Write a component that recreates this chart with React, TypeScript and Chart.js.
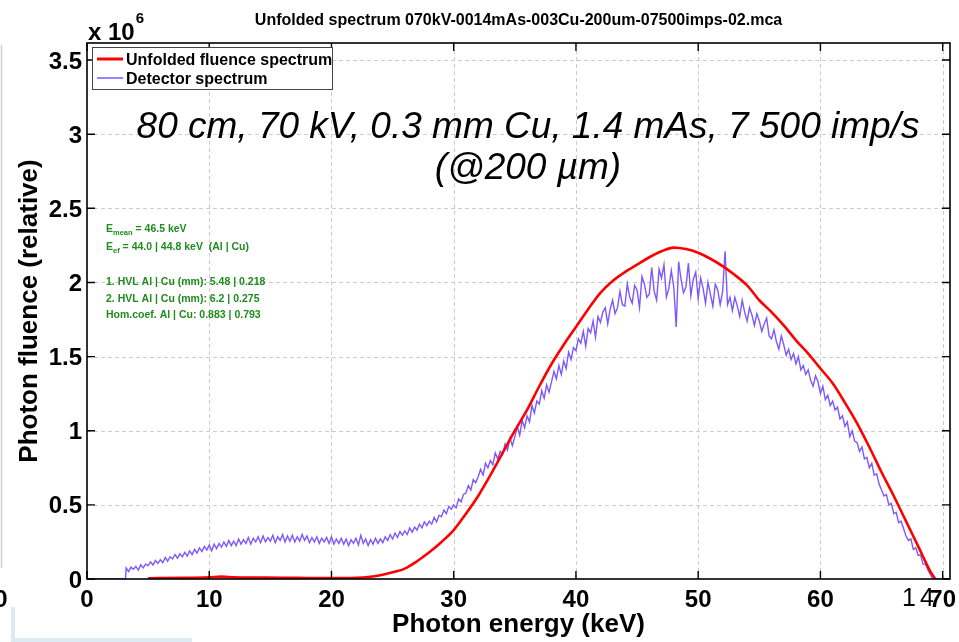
import React, { useEffect, useRef } from 'react';
import { Chart, registerables } from 'chart.js';

Chart.register(...registerables);

const FONT = '"Liberation Sans", Arial, Helvetica, sans-serif';

const TITLE = 'Unfolded spectrum 070kV-0014mAs-003Cu-200um-07500imps-02.mca';
const X_TITLE = 'Photon energy (keV)';
const Y_TITLE = 'Photon fluence (relative)';
const Y_EXPONENT_BASE = 'x 10';
const Y_EXPONENT_POWER = '6';
const LEGEND_LABELS = ['Unfolded fluence spectrum', 'Detector spectrum'];
const NOTE_LINES = ['80 cm, 70 kV, 0.3 mm Cu, 1.4 mAs, 7 500 imp/s', '(@200 µm)'];

// Each stats line is a list of [text, isSubscript] runs.
const STATS_LINE_1: [string, boolean][] = [['E', false], ['mean', true], [' = 46.5 keV', false]];
const STATS_LINE_2: [string, boolean][] = [['E', false], ['ef', true], [' = 44.0 | 44.8 keV  (Al | Cu)', false]];
const STATS_LINE_3: [string, boolean][] = [['1. HVL Al | Cu (mm): 5.48 | 0.218', false]];
const STATS_LINE_4: [string, boolean][] = [['2. HVL Al | Cu (mm): 6.2 | 0.275', false]];
const STATS_LINE_5: [string, boolean][] = [['Hom.coef. Al | Cu: 0.883 | 0.793', false]];

const X_TICKS = [0, 10, 20, 30, 40, 50, 60, 70];
const X_TICK_LABELS = ['0', '10', '20', '30', '40', '50', '60', '70'];
const Y_TICKS = [0, 0.5, 1, 1.5, 2, 2.5, 3, 3.5];
const Y_TICK_LABELS = ['0', '0.5', '1', '1.5', '2', '2.5', '3', '3.5'];
const X_MIN = 0;
const X_MAX = 70.6;
const Y_MIN = 0;
const Y_MAX = 3.615;

// Unfolded fluence spectrum (x 10^6), keV
const unfoldedEnergy = [
  5, 8, 10, 11, 12, 14, 16, 18, 20, 22, 23, 24, 25, 26, 27, 28, 29, 30, 31, 32, 33, 34, 35, 36, 37, 38,
  39, 40, 41, 42, 43, 44, 45, 46, 47, 48, 49, 50, 51, 52, 53, 54, 55, 56, 57, 58, 59, 60, 61, 62, 63,
  64, 65, 66, 67, 68, 69, 69.4,
];
const unfoldedFluence = [
  0.005, 0.008, 0.012, 0.016, 0.012, 0.01, 0.008, 0.007, 0.006, 0.008, 0.013, 0.025, 0.045, 0.07, 0.12,
  0.18, 0.25, 0.33, 0.44, 0.56, 0.7, 0.85, 1.0, 1.14, 1.3, 1.45, 1.58, 1.7, 1.82, 1.93, 2.01, 2.07,
  2.12, 2.17, 2.21, 2.235, 2.225, 2.2, 2.16, 2.11, 2.05, 1.98, 1.88, 1.8, 1.71, 1.61, 1.52, 1.42, 1.32,
  1.19, 1.05, 0.89, 0.72, 0.56, 0.39, 0.22, 0.05, 0,
];

// Detector spectrum: empty channels below threshold, then 0.2 keV channels from 3.2 keV
const detectorLowEnergy = [0, 3.15];
const detectorLowCounts = [0, 0];
const DETECTOR_START = 3.2;
const DETECTOR_STEP = 0.2;
const detectorCounts = [
  0.075, 0.05, 0.08, 0.065,
  0.085, 0.06, 0.095, 0.075, 0.1,
  0.09, 0.115, 0.095, 0.125, 0.105,
  0.13, 0.11, 0.145, 0.12, 0.15,
  0.135, 0.165, 0.14, 0.17, 0.15,
  0.18, 0.155, 0.19, 0.165, 0.2,
  0.175, 0.21, 0.185, 0.22, 0.195,
  0.23, 0.19, 0.235, 0.205, 0.24,
  0.215, 0.25, 0.22, 0.26, 0.225,
  0.255, 0.225, 0.27, 0.235, 0.265,
  0.24, 0.28, 0.235, 0.275, 0.25,
  0.285, 0.245, 0.29, 0.25, 0.28,
  0.255, 0.295, 0.245, 0.285, 0.26,
  0.3, 0.25, 0.29, 0.255, 0.295,
  0.25, 0.285, 0.255, 0.3, 0.26,
  0.29, 0.245, 0.28, 0.25, 0.285,
  0.24, 0.275, 0.25, 0.28, 0.24,
  0.285, 0.235, 0.27, 0.24, 0.275,
  0.235, 0.27, 0.225, 0.265, 0.24,
  0.275, 0.23, 0.295, 0.24, 0.27,
  0.225, 0.265, 0.235, 0.275, 0.24,
  0.27, 0.245, 0.285, 0.26, 0.3,
  0.27, 0.31, 0.28, 0.32, 0.295,
  0.325, 0.3, 0.345, 0.315, 0.35,
  0.33, 0.37, 0.345, 0.385, 0.36,
  0.39, 0.37, 0.415, 0.385, 0.43,
  0.42, 0.465, 0.44, 0.49, 0.47,
  0.5, 0.48, 0.54, 0.52, 0.57,
  0.58, 0.63, 0.6, 0.67, 0.65,
  0.69, 0.74, 0.7, 0.78, 0.75,
  0.8, 0.77, 0.85, 0.81, 0.86,
  0.84, 0.91, 0.87, 0.95, 0.9,
  0.96, 1.03, 0.97, 1.07, 1.02,
  1.1, 1.06, 1.17, 1.12, 1.2,
  1.18, 1.27, 1.22, 1.31, 1.26,
  1.33, 1.4, 1.35, 1.44, 1.38,
  1.47, 1.42, 1.53, 1.48, 1.56,
  1.54, 1.62, 1.59, 1.67, 1.57,
  1.69, 1.66, 1.74, 1.63, 1.77,
  1.73, 1.8, 1.83, 1.72, 1.82,
  1.88, 1.79, 1.83, 1.94, 1.85,
  1.84, 1.99, 1.9, 1.86, 1.98,
  1.95, 1.83, 2.04, 1.99, 1.9,
  1.92, 2.1, 1.94, 1.88, 2.09,
  2.03, 2.12, 1.9, 1.96, 2.08,
  1.97, 1.7, 2.14, 2.02, 1.93,
  1.97, 2.13, 1.91, 2.02, 2.07,
  1.89, 2.03, 1.96, 1.86, 2.0,
  1.92, 1.84, 1.99, 1.95, 1.85,
  1.94, 2.21, 1.85, 1.9, 1.81,
  1.9, 1.84, 1.77, 1.88, 1.8,
  1.74, 1.83, 1.78, 1.71, 1.79,
  1.74, 1.67, 1.72, 1.76, 1.64,
  1.62, 1.68, 1.6, 1.55, 1.64,
  1.58, 1.51, 1.55, 1.48, 1.52,
  1.45, 1.5, 1.41, 1.44, 1.38,
  1.41, 1.34, 1.3, 1.37, 1.33,
  1.25, 1.3, 1.21, 1.24, 1.17,
  1.2, 1.14, 1.16, 1.08, 1.1,
  1.03, 1.06, 0.96, 1.0, 0.93,
  0.92, 0.86, 0.89, 0.81, 0.82,
  0.75, 0.78, 0.7, 0.71, 0.64,
  0.6, 0.56, 0.57, 0.5, 0.51,
  0.44, 0.45, 0.38, 0.39, 0.34,
  0.29, 0.26, 0.27, 0.2, 0.21,
  0.16, 0.16, 0.1, 0.1, 0.06,
  0.03, 0,
];
const detectorHighEnergy = [70.6];
const detectorHighCounts = [0];

const RED = '#ff0000';
const PURPLE = 'rgb(125, 88, 255)';
const GREEN = '#1e8c1e';

function toPoints(xs: number[], ys: number[]) {
  return xs.map((x, i) => ({ x, y: ys[i] }));
}

function detectorPoints() {
  const pts = toPoints(detectorLowEnergy, detectorLowCounts);
  detectorCounts.forEach((v, i) => pts.push({ x: DETECTOR_START + i * DETECTOR_STEP, y: v }));
  return pts.concat(toPoints(detectorHighEnergy, detectorHighCounts));
}

function drawRuns(ctx: CanvasRenderingContext2D, runs: [string, boolean][], x: number, y: number) {
  let cx = x;
  runs.forEach(([text, sub]) => {
    ctx.font = sub ? `bold 7.5px ${FONT}` : `bold 10.5px ${FONT}`;
    ctx.fillText(text, cx, sub ? y + 3 : y);
    cx += ctx.measureText(text).width;
  });
}

const framePlugin = {
  id: 'matlabFrame',
  beforeDatasetsDraw(chart: any) {
    const { ctx, chartArea } = chart;
    const { left, right, top, bottom } = chartArea;
    const xs = chart.scales.x;
    const ys = chart.scales.y;
    ctx.save();
    ctx.strokeStyle = '#cccccc';
    ctx.lineWidth = 1;
    ctx.setLineDash([4, 3]);
    X_TICKS.forEach((v) => {
      if (v === X_MIN) return;
      const px = Math.round(xs.getPixelForValue(v)) + 0.5;
      ctx.beginPath();
      ctx.moveTo(px, top);
      ctx.lineTo(px, bottom);
      ctx.stroke();
    });
    Y_TICKS.forEach((v) => {
      if (v === Y_MIN) return;
      const py = Math.round(ys.getPixelForValue(v)) + 0.5;
      ctx.beginPath();
      ctx.moveTo(left, py);
      ctx.lineTo(right, py);
      ctx.stroke();
    });
    ctx.restore();
  },
  afterDatasetsDraw(chart: any) {
    const { ctx, chartArea } = chart;
    const { left, right, top, bottom } = chartArea;
    const xs = chart.scales.x;
    const ys = chart.scales.y;
    ctx.save();

    // axes box
    ctx.strokeStyle = '#000';
    ctx.lineWidth = 1.6;
    ctx.strokeRect(left, top, right - left, bottom - top);

    // inward ticks on all four sides
    const TL = 8;
    ctx.lineWidth = 1.4;
    X_TICKS.forEach((v) => {
      const px = xs.getPixelForValue(v);
      ctx.beginPath();
      ctx.moveTo(px, bottom);
      ctx.lineTo(px, bottom - TL);
      ctx.moveTo(px, top);
      ctx.lineTo(px, top + TL);
      ctx.stroke();
    });
    Y_TICKS.forEach((v) => {
      const py = ys.getPixelForValue(v);
      ctx.beginPath();
      ctx.moveTo(left, py);
      ctx.lineTo(left + TL, py);
      ctx.moveTo(right, py);
      ctx.lineTo(right - TL, py);
      ctx.stroke();
    });

    // tick labels
    ctx.fillStyle = '#000';
    ctx.font = `bold 24px ${FONT}`;
    ctx.textBaseline = 'alphabetic';
    ctx.textAlign = 'center';
    X_TICKS.forEach((v, i) => {
      ctx.fillText(X_TICK_LABELS[i], xs.getPixelForValue(v), bottom + 28);
    });
    ctx.textAlign = 'right';
    Y_TICKS.forEach((v, i) => {
      ctx.fillText(Y_TICK_LABELS[i], left - 5, ys.getPixelForValue(v) + 8.5);
    });

    // exponent above the y axis
    ctx.textAlign = 'left';
    ctx.font = `bold 24px ${FONT}`;
    ctx.fillText(Y_EXPONENT_BASE, left + 1, top - 3);
    const bw = ctx.measureText(Y_EXPONENT_BASE).width;
    ctx.font = `bold 15px ${FONT}`;
    ctx.fillText(Y_EXPONENT_POWER, left + 2 + bw, top - 20);

    // axis titles
    ctx.font = `bold 26px ${FONT}`;
    ctx.textAlign = 'center';
    ctx.fillText(X_TITLE, (left + right) / 2, bottom + 53);
    ctx.save();
    ctx.translate(37, (top + bottom) / 2);
    ctx.rotate(-Math.PI / 2);
    ctx.fillText(Y_TITLE, 0, 0);
    ctx.restore();

    // chart title
    ctx.font = `bold 16px ${FONT}`;
    ctx.fillText(TITLE, (left + right) / 2, 25);

    // legend
    const lx = left + 5;
    const ly = top + 4;
    ctx.fillStyle = '#fff';
    ctx.fillRect(lx, ly, 240, 42);
    ctx.strokeStyle = '#444';
    ctx.lineWidth = 1;
    ctx.strokeRect(lx + 0.5, ly + 0.5, 240, 42);
    ctx.strokeStyle = RED;
    ctx.lineWidth = 3;
    ctx.beginPath();
    ctx.moveTo(lx + 5, ly + 12);
    ctx.lineTo(lx + 31, ly + 12);
    ctx.stroke();
    ctx.strokeStyle = PURPLE;
    ctx.lineWidth = 1.5;
    ctx.beginPath();
    ctx.moveTo(lx + 5, ly + 31);
    ctx.lineTo(lx + 31, ly + 31);
    ctx.stroke();
    ctx.fillStyle = '#000';
    ctx.font = `bold 16px ${FONT}`;
    ctx.textAlign = 'left';
    ctx.fillText(LEGEND_LABELS[0], lx + 34, ly + 18);
    ctx.fillText(LEGEND_LABELS[1], lx + 34, ly + 37);

    // measurement note
    ctx.font = `italic 37px ${FONT}`;
    ctx.textAlign = 'center';
    ctx.fillText(NOTE_LINES[0], 528, 138);
    ctx.fillText(NOTE_LINES[1], 528, 179);

    // spectrum statistics
    ctx.fillStyle = GREEN;
    ctx.textAlign = 'left';
    drawRuns(ctx, STATS_LINE_1, 106, 232);
    drawRuns(ctx, STATS_LINE_2, 106, 250);
    drawRuns(ctx, STATS_LINE_3, 106, 285);
    drawRuns(ctx, STATS_LINE_4, 106, 302);
    drawRuns(ctx, STATS_LINE_5, 106, 318);

    // stray glyphs near the right end of the x axis
    ctx.fillStyle = '#000';
    ctx.font = `25px ${FONT}`;
    ctx.textAlign = 'center';
    ctx.fillText('1', 909, 606);
    ctx.fillText('4', 927, 606);

    // page edge: neighbouring frame
    ctx.strokeStyle = '#d0d0d0';
    ctx.lineWidth = 1.5;
    ctx.beginPath();
    ctx.moveTo(1.5, 45);
    ctx.lineTo(1.5, 568);
    ctx.stroke();
    ctx.font = `bold 24px ${FONT}`;
    ctx.fillText('0', 1, 607);
    ctx.strokeStyle = '#dcebf1';
    ctx.lineWidth = 4;
    ctx.beginPath();
    ctx.moveTo(13, 607);
    ctx.lineTo(13, 640);
    ctx.lineTo(192, 640);
    ctx.stroke();

    ctx.restore();
  },
};

export default function App() {
  const ref = useRef<HTMLCanvasElement | null>(null);

  useEffect(() => {
    document.body.style.margin = '0';
    if (!ref.current) return;
    const chart = new Chart(ref.current, {
      type: 'scatter',
      data: {
        datasets: [
          {
            label: LEGEND_LABELS[0],
            data: toPoints(unfoldedEnergy, unfoldedFluence),
            showLine: true,
            borderColor: RED,
            borderWidth: 2.6,
            pointRadius: 0,
            cubicInterpolationMode: 'monotone',
          },
          {
            label: LEGEND_LABELS[1],
            data: detectorPoints(),
            showLine: true,
            borderColor: PURPLE,
            borderWidth: 1.4,
            pointRadius: 0,
            tension: 0,
          },
        ],
      },
      options: {
        responsive: false,
        animation: false,
        devicePixelRatio: 1,
        layout: { padding: { top: 43, right: 9, left: 0, bottom: 0 } },
        plugins: { legend: { display: false }, tooltip: { enabled: false }, title: { display: false } },
        scales: {
          x: {
            type: 'linear',
            min: X_MIN,
            max: X_MAX,
            ticks: { display: false },
            grid: { display: false },
            border: { display: false },
            afterFit: (s: any) => {
              s.height = 63;
            },
          },
          y: {
            type: 'linear',
            min: Y_MIN,
            max: Y_MAX,
            ticks: { display: false },
            grid: { display: false },
            border: { display: false },
            afterFit: (s: any) => {
              s.width = 87;
            },
          },
        },
      } as any,
      plugins: [framePlugin],
    });
    return () => chart.destroy();
  }, []);

  return (
    <div style={{ position: 'absolute', left: 0, top: 0, width: 959, height: 642, background: '#fff' }}>
      <canvas ref={ref} width={959} height={642} />
    </div>
  );
}
